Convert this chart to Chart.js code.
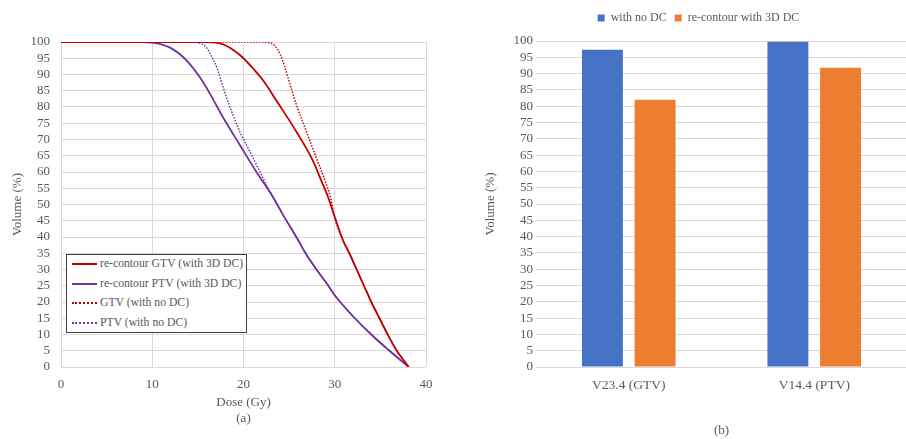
<!DOCTYPE html>
<html><head><meta charset="utf-8">
<script src="https://cdn.jsdelivr.net/npm/chart.js@4.4.0/dist/chart.umd.min.js"></script>
<style>
html,body{margin:0;padding:0;background:#fff;overflow:hidden;width:906px;height:439px;position:relative}
#c1{position:absolute;left:0;top:0;}
#c2{position:absolute;left:450px;top:0;}
#leg{position:absolute;left:66px;top:254px;width:181px;height:79px;border:1px solid #404040;background:#fff;font-size:11.7px;font-family:"Liberation Serif","Tinos","Times New Roman","DejaVu Serif",serif;color:#595959;box-sizing:border-box}
.row{position:absolute;left:5px;height:16px;line-height:16px;white-space:nowrap}
.smp{display:inline-block;width:25px;height:0;vertical-align:middle;margin-right:3px}
</style></head>
<body>
<canvas id="c1" width="450" height="439"></canvas>
<canvas id="c2" width="496" height="439"></canvas>
<div id="leg"></div>
<script>
// ---------- Data: DVH curves (a) ----------
const gtvDcDose = [0,15,16,17,18,19,20,21,22.2,23.6,25.8,27.6,28.5,29.3,29.9,30.9,31.6,32.4,33.2,34.0,34.9,35.8,36.8,38.1];
const gtvDcVol  = [100,100,99.95,99.8,99.0,97.3,95,92,88,82,72.4,63.5,57.5,52,47,39,35,30,25,20,15,10,5,0];

const ptvDcDose = [0,9,10,11,12,13,14,15.2,16.3,17.8,19.6,21.4,23.1,24.4,26.0,26.8,28.0,29.3,30.0,30.6,32.2,34.0,36.0,38.1];
const ptvDcVol  = [100,100,99.8,99.3,98.2,96.3,93.6,89.2,84.2,76.6,68.3,60.1,52.9,46.5,39,35,30,25,22.1,20,15,10,5,0];

const gtvNoDose = [0,22.2,22.8,23.3,24,24.5,25.1,25.8,26.9,28,29.1,29.6,29.9,30.9,31.6,32.4,33.2,34.0,34.9,35.8,36.8,38.1];
const gtvNoVol  = [100,100,99.8,99.2,96.3,92.5,87,80.7,72.4,64.2,56,51.5,47,39,35,30,25,20,15,10,5,0];

const ptvNoDose = [0,14.5,15.2,16,16.5,17.1,17.8,18.7,19.6,20.7,21.8,22.5,23.1,24.4,26.0,26.8,28.0,29.3,30.0,30.6,32.2,34.0,36.0,38.1];
const ptvNoVol  = [100,100,99.7,98.1,95.6,92,85.8,78.6,72.4,66.3,60.1,56,52.9,46.5,39,35,30,25,22.1,20,15,10,5,0];

const lineLabels = ['re-contour GTV (with 3D DC)','re-contour PTV (with 3D DC)','GTV (with no DC)','PTV (with no DC)'];
const xTicksA = [0,10,20,30,40];

// ---------- Data: bar chart (b) ----------
const barCategories = ['V23.4 (GTV)','V14.4 (PTV)'];
const barSeriesNames = ['with no DC','re-contour with 3D DC'];
const withNoDC = [97.3, 99.8];
const recontourDC = [82.0, 91.8];

const RED = '#c00000', PURPLE = '#7030a0', BLUE = '#4472c4', ORANGE = '#ed7d31';
const GRID = '#d9d9d9', TXT = '#595959';
const FAM = '"Liberation Serif", "Tinos", "Times New Roman", "DejaVu Serif", serif';
const FONT = {family:FAM, size:13};

function pts(xs, ys){ return xs.map((x,i)=>({x:x, y:ys[i]})); }

// HTML legend for (a)
(function(){
  const leg = document.getElementById('leg');
  const styles = [['solid',RED,2],['solid',PURPLE,2],['dotted',RED,2],['dotted',PURPLE,2]];
  const tops = [1,21,40,60];
  lineLabels.forEach((t,i)=>{
    const r = document.createElement('div'); r.className='row'; r.style.top = tops[i]+'px';
    const s = document.createElement('span'); s.className='smp';
    s.style.borderTop = styles[i][2]+'px '+styles[i][0]+' '+styles[i][1];
    r.appendChild(s); r.appendChild(document.createTextNode(t)); leg.appendChild(r);
  });
})();

const legendExtra = {
  id:'legendExtra',
  beforeLayout(chart){
    const lg = chart.legend;
    if (lg && !lg._wrapped){
      const f = lg.fit.bind(lg);
      lg.fit = function(){ f(); this.height += 7; };
      lg._wrapped = true;
    }
  }
};

new Chart(document.getElementById('c1'), {
  type:'line',
  data:{datasets:[
    {label:lineLabels[0], data:pts(gtvDcDose,gtvDcVol), borderColor:RED, borderWidth:1.8, pointRadius:0, cubicInterpolationMode:'monotone', order:1},
    {label:lineLabels[1], data:pts(ptvDcDose,ptvDcVol), borderColor:PURPLE, borderWidth:1.8, pointRadius:0, cubicInterpolationMode:'monotone', order:2},
    {label:lineLabels[2], data:pts(gtvNoDose,gtvNoVol), borderColor:RED, borderWidth:1.5, borderDash:[1.5,1.5], pointRadius:0, cubicInterpolationMode:'monotone', order:3},
    {label:lineLabels[3], data:pts(ptvNoDose,ptvNoVol), borderColor:PURPLE, borderWidth:1.5, borderDash:[1.5,1.5], pointRadius:0, cubicInterpolationMode:'monotone', order:4}
  ]},
  options:{
    responsive:false, animation:false, devicePixelRatio:1,
    layout:{padding:{top:42,right:24,left:0,bottom:0}},
    plugins:{legend:{display:false}, tooltip:{enabled:false}},
    scales:{
      x:{type:'linear', min:0, max:40,
        afterBuildTicks:(s)=>{s.ticks = xTicksA.map(v=>({value:v}));},
        afterFit:(s)=>{s.height=72;},
        grid:{color:GRID, drawTicks:false}, border:{display:false},
        ticks:{color:TXT, font:FONT, padding:10, maxRotation:0},
        title:{display:true, text:['Dose (Gy)','(a)'], color:TXT, font:{family:FAM,size:13,lineHeight:'16px'}, padding:{top:0,bottom:12}}
      },
      y:{min:0, max:100,
        ticks:{stepSize:5, color:TXT, font:FONT, padding:11, autoSkip:false},
        afterFit:(s)=>{s.width=61;},
        grid:{color:GRID, drawTicks:false}, border:{display:false},
        title:{display:true, text:'Volume (%)', color:TXT, font:{family:FAM,size:13,lineHeight:'16px'}, padding:{top:10,bottom:0}}
      }
    }
  }
});

new Chart(document.getElementById('c2'), {
  type:'bar',
  data:{labels:barCategories, datasets:[
    {label:barSeriesNames[0], data:withNoDC, backgroundColor:BLUE},
    {label:barSeriesNames[1], data:recontourDC, backgroundColor:ORANGE}
  ]},
  plugins:[legendExtra],
  options:{
    responsive:false, animation:false, devicePixelRatio:1,
    categoryPercentage:0.568, barPercentage:0.777,
    layout:{padding:{top:4,right:39,left:40,bottom:0}},
    plugins:{
      tooltip:{enabled:false},
      legend:{position:'top', labels:{boxWidth:7, boxHeight:7, color:TXT, font:{family:FAM,size:12}, padding:8}}
    },
    scales:{
      x:{grid:{display:false, drawTicks:false}, border:{display:false},
        afterFit:(s)=>{s.height=72;},
        ticks:{color:TXT, font:{family:FAM,size:13.5}, padding:10},
        title:{display:true, text:'(b)', color:TXT, font:{family:FAM,size:13,lineHeight:'16px'}, padding:{top:0,bottom:0}}
      },
      y:{min:0, max:100,
        ticks:{stepSize:5, color:TXT, font:FONT, padding:3, autoSkip:false},
        afterFit:(s)=>{s.width=46;},
        grid:{color:GRID, drawTicks:false}, border:{display:false},
        title:{display:true, text:'Volume (%)', color:TXT, font:{family:FAM,size:13,lineHeight:'16px'}, padding:{top:-7,bottom:0}}
      }
    }
  }
});
</script>
</body></html>
